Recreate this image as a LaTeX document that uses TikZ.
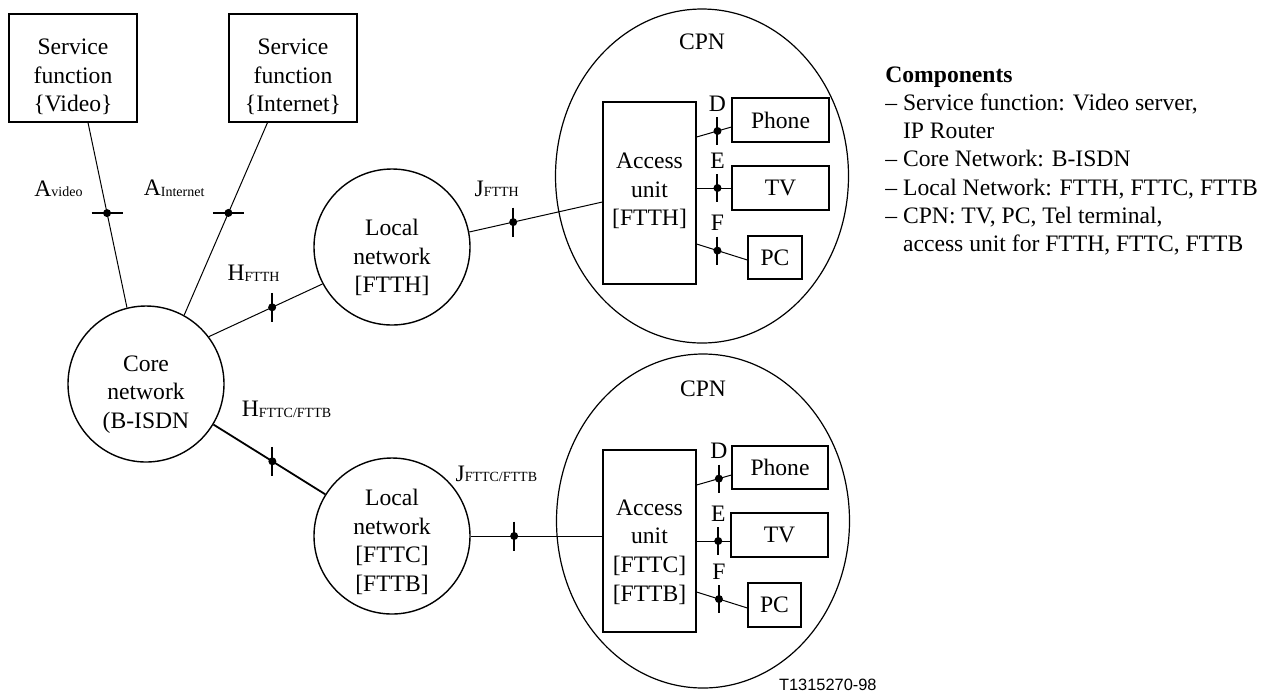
\documentclass[tikz,border=0pt]{standalone}
\usepackage{fontspec}
\setmainfont{Liberation Serif}
\newfontfamily\sansf{Liberation Sans}
\usetikzlibrary{shapes.geometric,calc}
\newcommand\subtxt[1]{\raisebox{-0.4pt}{\fontsize{7}{8}\selectfont #1}}
\begin{document}
\begin{tikzpicture}[x=0.5pt,y=-0.5pt,
  box/.style={draw, rectangle, inner sep=0pt, line width=0.6pt, font=\fontsize{11.8}{14.3}\selectfont},
  net/.style={draw, circle, inner sep=0pt, minimum size=78pt, line width=0.7pt},
  cpn/.style={draw, ellipse, inner sep=0pt, minimum width=146.5pt, minimum height=167pt, line width=0.6pt},
  txt/.style={align=center, inner sep=0pt, font=\fontsize{11.8}{14.3}\selectfont},
  conn/.style={line width=0.5pt},
  thickconn/.style={line width=0.9pt},
  tickline/.style={line width=1pt},
  lab/.style={anchor=base west, inner sep=0pt, font=\fontsize{11.8}{14.3}\selectfont},
  letter/.style={anchor=base, inner sep=0pt, font=\fontsize{11.8}{14.3}\selectfont}
]
\useasboundingbox (0,0) rectangle (1270,693);

% service functions
\node[box, minimum width=64pt, minimum height=54pt,
  label={[txt,yshift=-4.5pt]center:{Service\\function\\\{Video\}}}] (sfv) at (73,68) {};
\node[box, minimum width=64pt, minimum height=54pt,
  label={[txt,yshift=-4.5pt]center:{Service\\function\\\{Internet\}}}] (sfi) at (293,68) {};

% networks
\node[net, label={[txt,yshift=-5.25pt]center:{Core\\network\\(B-ISDN}}] (core) at (146,384) {};
\node[net, label={[txt,yshift=-5.25pt]center:{Local\\network\\{[FTTH]}}}] (loc1) at (392,247) {};
\node[net, label={[txt,yshift=-3pt]center:{Local\\network\\{[FTTC]}\\{[FTTB]}}}] (loc2) at (392,536) {};

% CPNs
\node[cpn] (cpn1) at (702,176) {};
\node[txt, anchor=base] (cpn1t) at ($(cpn1.north)+(0,41)$) {CPN};
\node[cpn] (cpn2) at (703,521) {};
\node[txt, anchor=base] (cpn2t) at ($(cpn2.north)+(0,43)$) {CPN};

\node[box, minimum width=46.5pt, minimum height=91pt,
  label={[txt,yshift=1pt]center:{Access\\unit\\{[FTTH]}}}] (au1) at (649.5,193) {};
\node[box, minimum width=46.5pt, minimum height=91pt,
  label={[txt,yshift=-5.5pt]center:{Access\\unit\\{[FTTC]}\\{[FTTB]}}}] (au2) at (649.5,541) {};

\node[box, minimum width=48.5pt, minimum height=22pt] (ph1) at (780.5,120) {Phone};
\node[box, minimum width=48.5pt, minimum height=22pt] (tv1) at (780.5,188) {TV};
\node[box, minimum width=27pt, minimum height=21.5pt] (pc1) at (775,257.5) {PC};
\node[box, minimum width=48pt, minimum height=21.5pt] (ph2) at (780,467.5) {Phone};
\node[box, minimum width=48.5pt, minimum height=22pt] (tv2) at (779.5,535) {TV};
\node[box, minimum width=26.5pt, minimum height=22pt] (pc2) at (774.5,605) {PC};

% connectors A
\draw[conn] ([xshift=7.5pt]sfv.south) -- coordinate[pos=0.489] (av) (core.104);
\draw[tickline] ([xshift=-7.75pt]av) -- ([xshift=7.75pt]av);
\fill (av) circle (2pt);
\node[lab] (avl) at ($(av)+(-73,-17)$) {A\subtxt{video}};

\draw[conn] ([xshift=-12.75pt]sfi.south) -- coordinate[pos=0.469] (ai) (core.61);
\draw[tickline] ([xshift=-7.75pt]ai) -- ([xshift=7.75pt]ai);
\fill (ai) circle (2pt);
\node[lab] (ail) at ($(ai)+(-85,-17)$) {A\subtxt{Internet}};

% H FTTH
\draw[conn] (core.37) -- coordinate[pos=0.557] (hf) (loc1.208);
\draw[tickline] ([yshift=7.25pt]hf) -- ([yshift=-7.25pt]hf);
\fill (hf) circle (2pt);
\node[lab] (hfl) at ($(hf)+(-45,-27)$) {H\subtxt{FTTH}};

% J FTTH
\draw[conn] (loc1.11) -- coordinate[pos=0.33] (jf) ([yshift=-4.5pt]au1.west);
\draw[tickline] ([yshift=7.25pt]jf) -- ([yshift=-7.25pt]jf);
\fill (jf) circle (2pt);
\node[lab] (jfl) at ($(jf)+(-39,-26)$) {J\subtxt{FTTH}};

% H FTTC/FTTB
\draw[thickconn] (core.-31.5) -- coordinate[pos=0.527] (hc) (loc2.148);
\draw[tickline] ([yshift=7.25pt]hc) -- ([yshift=-7.25pt]hc);
\fill (hc) circle (2pt);
\node[lab] (hcl) at ($(hc)+(-31,-45)$) {H\subtxt{FTTC/FTTB}};

% J FTTC/FTTB
\draw[conn] (loc2.east) -- coordinate[pos=0.33] (jc) (au2.west |- loc2.east);
\draw[tickline] ([yshift=7.25pt]jc) -- ([yshift=-7.25pt]jc);
\fill (jc) circle (2pt);
\node[lab] (jcl) at ($(jc)+(-59,-55)$) {J\subtxt{FTTC/FTTB}};

% CPN 1 internal
\draw[conn] ([yshift=28pt]au1.east) -- coordinate[pos=0.6] (d1) ([yshift=-3.5pt]ph1.west);
\draw[conn] (au1.east |- tv1.west) -- coordinate[pos=0.6] (e1) (tv1.west);
\draw[conn] ([yshift=-25.5pt]au1.east) -- coordinate[pos=0.41] (f1) ([yshift=-1.25pt]pc1.west);
\foreach \t/\l in {d1/D, e1/E, f1/F}{
  \draw[tickline] ([yshift=7pt]\t) -- ([yshift=-7pt]\t);
  \fill (\t) circle (2pt);
  \node[letter] at ([yshift=10pt]\t) {\l};
}

% CPN 2 internal
\draw[conn] ([yshift=28pt]au2.east) -- coordinate[pos=0.64] (d2) ([yshift=-3.75pt]ph2.west);
\draw[conn] (au2.east) -- coordinate[pos=0.64] (e2) (tv2.west |- au2.east);
\draw[conn] ([yshift=-25.5pt]au2.east) -- coordinate[pos=0.44] (f2) ([yshift=-1.5pt]pc2.west);
\foreach \t/\l in {d2/D, e2/E, f2/F}{
  \draw[tickline] ([yshift=7pt]\t) -- ([yshift=-7pt]\t);
  \fill (\t) circle (2pt);
  \node[letter] at ([yshift=10pt]\t) {\l};
}

% components legend
\node[anchor=north west, inner sep=0pt, align=left, font=\fontsize{11.8}{14.15}\selectfont] (comp) at (885,66) {%
\textbf{Components}\\
\textendash\ Service function: Video server,\\
\hphantom{\textendash\ }IP Router\\
\textendash\ Core Network: B-ISDN\\
\textendash\ Local Network: FTTH, FTTC, FTTB\\
\textendash\ CPN: TV, PC, Tel terminal,\\
\hphantom{\textendash\ }access unit for FTTH, FTTC, FTTB};

\node[anchor=base east, inner sep=0pt, font=\sansf\fontsize{8.2}{9}\selectfont] (tag) at (877,690) {T1315270-98};
\end{tikzpicture}
\end{document}
